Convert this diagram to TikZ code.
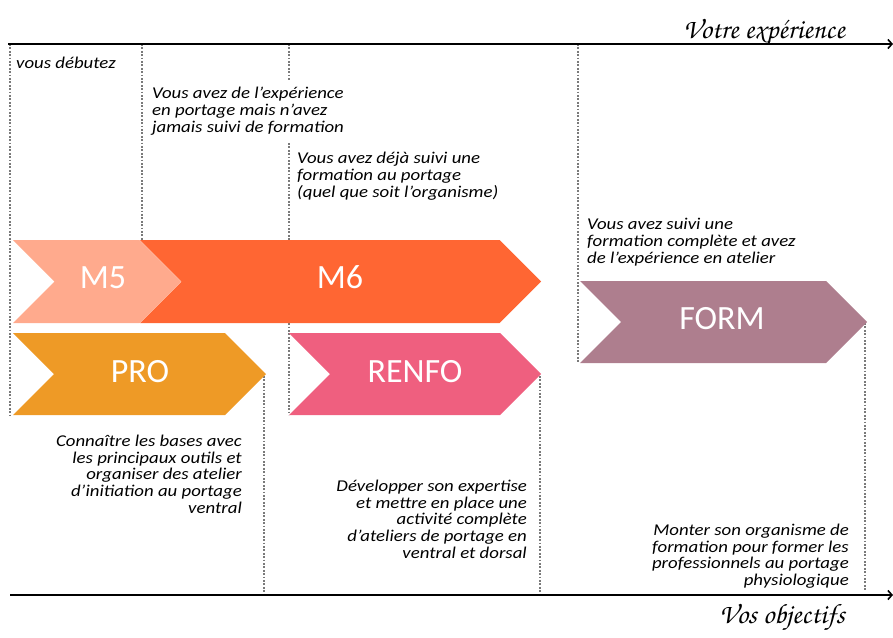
\documentclass[tikz,border=0pt]{standalone}
\usepackage{fontspec}
\setmainfont{Carlito}
\newfontfamily\descfont{Carlito}[FakeStretch=1.14]
\usetikzlibrary{arrows.meta}
\definecolor{cM5}{HTML}{FFAA8D}
\definecolor{cM6}{HTML}{FF6633}
\definecolor{cPRO}{HTML}{EE9A26}
\definecolor{cRENFO}{HTML}{EF5F7F}
\definecolor{cFORM}{HTML}{AE7E8E}
\definecolor{dotgray}{HTML}{7A7A7A}
\tikzset{
  axisline/.style={line width=2.4pt, -{Straight Barb[length=4pt,width=9pt,line width=1.6pt]}},
  guide/.style={dotgray, line width=2pt, dash pattern=on 1.8pt off 1.6pt},
  desc/.style={inner sep=0pt, font=\descfont\fontsize{16.5}{16.6}\selectfont\itshape},
  lbl/.style={inner sep=0pt, text=white, font=\fontsize{34}{36}\selectfont},
  script/.style={inner sep=0pt, font=\fontencoding{T1}\fontfamily{pzc}\fontsize{28}{30}\selectfont}
}
\begin{document}
\begin{tikzpicture}[x=1pt,y=-1pt]
\useasboundingbox (0,0) rectangle (893,637);
% guides
\draw[guide] (10,44) -- (10,415);
\draw[guide] (142,44) -- (142,240);
\draw[guide] (289,44) -- (289,80);
\draw[guide] (289,143) -- (289,415);
\draw[guide] (578,44) -- (578,363);
\draw[guide] (264,376) -- (264,595);
\draw[guide] (540,376) -- (540,595);
\draw[guide] (865,323) -- (865,590);
% chevrons
\fill[cM6] (140,240)--(499.5,240)--(541,281.5)--(499.5,323)--(140,323)--(181.5,281.5)--cycle;
\fill[cM5] (13,240)--(139.5,240)--(181,281.5)--(139.5,323)--(13,323)--(54.5,281.5)--cycle;
\fill[cPRO] (13,333)--(225,333)--(266,374)--(225,415)--(13,415)--(54,374)--cycle;
\fill[cRENFO] (289,333)--(500,333)--(541,374)--(500,415)--(289,415)--(330,374)--cycle;
\fill[cFORM] (580,281)--(826,281)--(867,322)--(826,363)--(580,363)--(621,322)--cycle;
% labels
\node[lbl, anchor=base] (m5) at (103,288) {M5};
\node[lbl, anchor=base] (m6) at (340,288) {M6};
\node[lbl, anchor=base] (pro) at (140,382) {PRO};
\node[lbl, anchor=base] (renfo) at (415,382) {RENFO};
\node[lbl, anchor=base] (form) at (722,329) {FORM};
% axes
\coordinate (ta) at (8,44);
\coordinate (tb) at (893,44);
\coordinate (ba) at (10,595);
\coordinate (bb) at (893,595);
\draw[axisline] (ta) -- (tb);
\draw[axisline] (ba) -- (bb);
\node[script, anchor=base east] (exp) at (845,38) {Votre exp\'erience};
\node[script, anchor=base east] (obj) at (845,623) {Vos objectifs};
% descriptions (base anchor = last line)
\node[desc, anchor=base west, align=left] (d1) at (16,68) {vous débutez};
\node[desc, anchor=base west, align=left] (d2) at (152,132) {Vous avez de l’expérience\\en portage mais n’avez\\jamais suivi de formation};
\node[desc, anchor=base west, align=left] (d3) at (297,197) {Vous avez déjà suivi une\\formation au portage\\(quel que soit l’organisme)};
\node[desc, anchor=base west, align=left] (d4) at (587,263) {Vous avez suivi une\\formation complète et avez\\de l’expérience en atelier};
\node[desc, anchor=base east, align=right] (o1) at (242,513) {Connaître les bases avec\\les principaux outils et\\organiser des atelier\\d’initiation au portage\\ventral};
\node[desc, anchor=base east, align=right] (o2) at (527,558) {Développer son expertise\\et mettre en place une\\activité complète\\d’ateliers de portage en\\ventral et dorsal};
\node[desc, anchor=base east, align=right] (o3) at (849,585.5) {Monter son organisme de\\formation pour former les\\professionnels au portage\\physiologique};
\end{tikzpicture}
\end{document}
